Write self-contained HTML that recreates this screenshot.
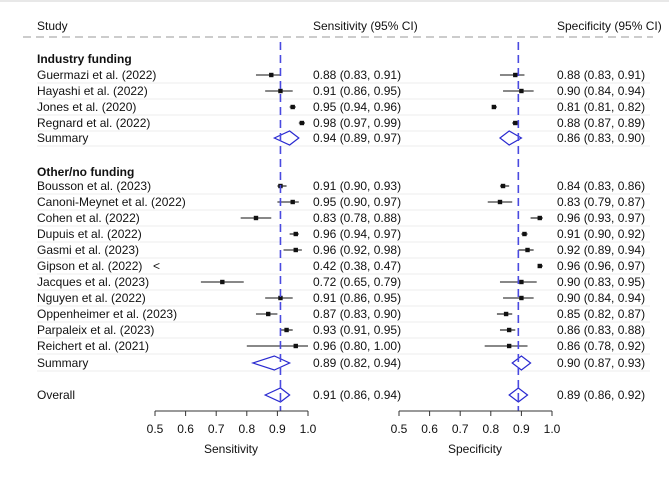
<!DOCTYPE html>
<html><head><meta charset="utf-8"><style>
html,body{margin:0;padding:0;background:#fff}
svg text{font-family:"Liberation Sans",Arial,sans-serif;font-size:12px;fill:#111}
</style></head><body>
<svg id="chart" width="669" height="480" viewBox="0 0 669 480" xmlns="http://www.w3.org/2000/svg">
<rect x="0" y="0" width="669" height="480" fill="#fff"/>
<line x1="0" y1="1" x2="669" y2="1" stroke="#e8e8e8" stroke-width="2"/>
<text x="37" y="30">Study</text>
<text x="313" y="30">Sensitivity (95% CI)</text>
<text x="557" y="30">Specificity (95% CI)</text>
<line x1="23" y1="37" x2="653" y2="37" stroke="#bbb" stroke-width="1.5" stroke-dasharray="8,5"/>
<g id="rows"></g>
<g id="marks"></g>
</svg>
<script>
const studies = ["Guermazi et al. (2022)","Hayashi et al. (2022)","Jones et al. (2020)","Regnard et al. (2022)","Summary",
"Bousson et al. (2023)","Canoni-Meynet et al. (2022)","Cohen et al. (2022)","Dupuis et al. (2022)","Gasmi et al. (2023)","Gipson et al. (2022)","Jacques et al. (2023)","Nguyen et al. (2022)","Oppenheimer et al. (2023)","Parpaleix et al. (2023)","Reichert et al. (2021)","Summary","Overall"];
const rowKind = ["s","s","s","s","d","s","s","s","s","s","s","s","s","s","s","s","d","d"];
const sensEst = [0.88,0.91,0.95,0.98,0.94,0.91,0.95,0.83,0.96,0.96,0.42,0.72,0.91,0.87,0.93,0.96,0.89,0.91];
const sensLo  = [0.83,0.86,0.94,0.97,0.89,0.90,0.90,0.78,0.94,0.92,0.38,0.65,0.86,0.83,0.91,0.80,0.82,0.86];
const sensHi  = [0.91,0.95,0.96,0.99,0.97,0.93,0.97,0.88,0.97,0.98,0.47,0.79,0.95,0.90,0.95,1.00,0.94,0.94];
const specEst = [0.88,0.90,0.81,0.88,0.86,0.84,0.83,0.96,0.91,0.92,0.96,0.90,0.90,0.85,0.86,0.86,0.90,0.89];
const specLo  = [0.83,0.84,0.81,0.87,0.83,0.83,0.79,0.93,0.90,0.89,0.96,0.83,0.84,0.82,0.83,0.78,0.87,0.86];
const specHi  = [0.91,0.94,0.82,0.89,0.90,0.86,0.87,0.97,0.92,0.94,0.97,0.95,0.94,0.87,0.88,0.92,0.93,0.92];
const sensRef = 0.91, specRef = 0.89;
const ticks = [0.5,0.6,0.7,0.8,0.9,1.0];
const groups = ["Industry funding","Other/no funding"];

const NS="http://www.w3.org/2000/svg";
const svg=document.getElementById('chart');
function mk(tag,attrs,parent){const e=document.createElementNS(NS,tag);for(const k in attrs)e.setAttribute(k,attrs[k]);(parent||svg).appendChild(e);return e;}
const rowY=[75,91,107,123,138,186,202,218,234,250,266,282,298,314,330,346,363,395];
const xSens=v=>155+(v-0.5)*306;
const xSpec=v=>399+(v-0.5)*306;
const f=v=>v.toFixed(2);
const rows=document.getElementById('rows');
const marks=document.getElementById('marks');

let t=mk('text',{x:37,y:63,'font-weight':'bold'},rows);t.textContent=groups[0];


t=mk('text',{x:37,y:176,'font-weight':'bold'},rows);t.textContent=groups[1];



studies.forEach((s,i)=>{
  const y=rowY[i];
  if(i<17){const l=mk('line',{x1:37,y1:y+8,x2:650,y2:y+8,stroke:'#ececec','stroke-width':1},rows);
    
    }
  let tx=mk('text',{x:37,y:y+4},rows);tx.textContent=s;
  
  
  tx=mk('text',{x:313,y:y+4},rows);tx.textContent=f(sensEst[i])+' ('+f(sensLo[i])+', '+f(sensHi[i])+')';
  
  
  tx=mk('text',{x:557,y:y+4},rows);tx.textContent=f(specEst[i])+' ('+f(specLo[i])+', '+f(specHi[i])+')';
  
  
  [[sensEst,sensLo,sensHi,xSens,'sensitivity'],[specEst,specLo,specHi,xSpec,'specificity']].forEach(([E,L,H,X,nm])=>{
    const e=E[i],lo=L[i],hi=H[i];
    if(rowKind[i]==='d'){
      const d=mk('polygon',{points:`${X(lo)},${y} ${X(e)},${y-7} ${X(hi)},${y} ${X(e)},${y+7}`,fill:'none',stroke:'#2a2ad0','stroke-width':1.2},marks);
      
      
    } else if(e<0.5){
      const a=mk('text',{x:X(0.5)-2,y:y+4},marks);a.textContent='<';
      
      
    } else {
      const l=mk('line',{x1:X(Math.max(lo,0.5)),y1:y,x2:X(Math.min(hi,1)),y2:y,stroke:'#111','stroke-width':1.1},marks);
      
      
      const r=mk('rect',{x:X(e)-2.2,y:y-2.2,width:4.4,height:4.4,fill:'#111'},marks);
      
      
    }
  });
});

[[xSens,sensRef,'sensitivity','Sensitivity',231],[xSpec,specRef,'specificity','Specificity',475]].forEach(([X,ref,nm,title,cx])=>{
  const r=mk('line',{x1:X(ref),y1:42,x2:X(ref),y2:411,stroke:'#4a4ae0','stroke-width':1.6,'stroke-dasharray':'8,5'});
  
  
  const ax=mk('line',{x1:X(0.5),y1:411,x2:X(1),y2:411,stroke:'#333','stroke-width':1});
  
  
  ticks.forEach(v=>{
    const tk=mk('line',{x1:X(v),y1:411,x2:X(v),y2:416,stroke:'#333','stroke-width':1});
    
    
    const tl=mk('text',{x:X(v),y:433,'text-anchor':'middle'});tl.textContent=v.toFixed(1);
    
    
  });
  const at=mk('text',{x:cx,y:453,'text-anchor':'middle'});at.textContent=title;
  
  
});
</script>
</body></html>
